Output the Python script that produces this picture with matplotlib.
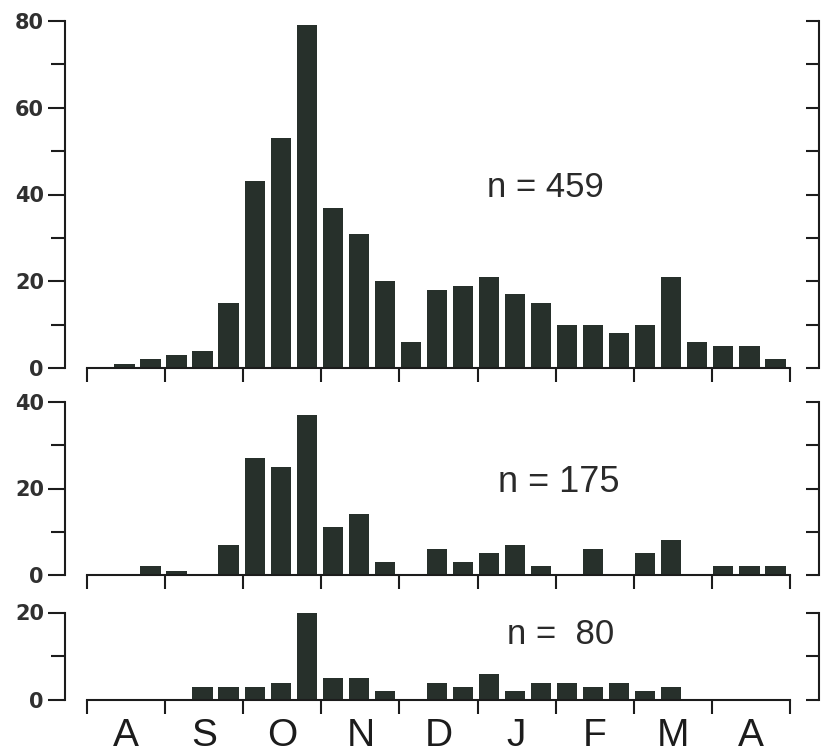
import numpy as np
import matplotlib
matplotlib.use("Agg")
import matplotlib.pyplot as plt

plt.rcParams['font.family'] = ['Liberation Sans', 'DejaVu Sans']

# 27 ten-day periods, August to April; month boundaries every 3 bins
months = ['A', 'S', 'O', 'N', 'D', 'J', 'F', 'M', 'A']

counts_459 = [0, 1, 2, 3, 4, 15, 43, 53, 79, 37, 31, 20, 6,
              18, 19, 21, 17, 15, 10, 10, 8, 10, 21, 6, 5, 5, 2]
counts_175 = [0, 0, 2, 1, 0, 7, 27, 25, 37, 11, 14, 3, 0,
              6, 3, 5, 7, 2, 0, 6, 0, 5, 8, 0, 2, 2, 2]
counts_80 = [0, 0, 0, 0, 3, 3, 3, 4, 20, 5, 5, 2, 0,
             4, 3, 6, 2, 4, 4, 3, 4, 2, 3, 0, 0, 0, 0]

panels = [
    (counts_459, 80, 'n = 459', (17.6, 41.5), 25),
    (counts_175, 40, 'n = 175', (18.1, 21.5), 26),
    (counts_80, 20, 'n =  80', (18.2, 15.0), 25),
]

bar_color = '#27302b'
line_color = '#1c1c1c'

W, H = 825, 753
fig = plt.figure(figsize=(W / 100, H / 100), dpi=100)
fig.patch.set_facecolor('white')

x0, x1 = 87, 790
# (pixel y of zero, pixel y of top value)
ypix = [(368, 21), (575, 402), (700, 612.5)]

nbins = len(counts_459)
for k, (counts, top, label, tpos, tsize) in enumerate(panels):
    y_zero, y_top = ypix[k]
    ax = fig.add_axes([x0 / W, 1 - y_zero / H, (x1 - x0) / W, (y_zero - y_top) / H])
    ax.set_facecolor('none')
    ax.bar(np.arange(nbins) + 0.05, counts, width=0.78, align='edge',
           color=bar_color, linewidth=0)
    ax.set_xlim(0, nbins)
    ax.set_ylim(0, top)

    for s in ['top', 'right']:
        ax.spines[s].set_visible(False)
    for s in ['left', 'bottom']:
        ax.spines[s].set_linewidth(1.5)
        ax.spines[s].set_color(line_color)
    ax.spines['left'].set_position(('outward', 16))

    ax.set_yticks(np.arange(0, top + 1, 20))
    ax.set_yticks(np.arange(10, top, 20), minor=True)
    ax.tick_params(axis='y', which='major', direction='out', length=12, width=1.5,
                   color=line_color, pad=3, labelsize=15, labelcolor='#303030')
    ax.tick_params(axis='y', which='minor', direction='out', length=10, width=1.5,
                   color=line_color)
    for t in ax.get_yticklabels():
        t.set_fontweight('bold')
        t.set_family('DejaVu Sans')

    ax.set_xticks(np.arange(0, nbins + 1, 3))
    ax.tick_params(axis='x', which='major', direction='out', length=10, width=1.5,
                   color=line_color, labelbottom=False)
    if k == 2:
        ax.set_xticks(np.arange(1.5, nbins, 3), months, minor=True)
        ax.tick_params(axis='x', which='minor', length=0, pad=13,
                       labelsize=28, labelcolor='#1c1c1c')
    else:
        ax.tick_params(axis='x', which='minor', length=0, labelbottom=False)

    ax.text(tpos[0], tpos[1], label, ha='center', va='center',
            fontsize=tsize, color='#2a2a2a')

    # unlabelled scale on the right
    ax2 = ax.twinx()
    ax2.set_ylim(0, top)
    for s in ['top', 'left', 'bottom']:
        ax2.spines[s].set_visible(False)
    ax2.spines['right'].set_position(('outward', 21))
    ax2.spines['right'].set_linewidth(1.5)
    ax2.spines['right'].set_color(line_color)
    ax2.set_yticks(np.arange(0, top + 1, 10))
    ax2.tick_params(axis='y', direction='in', length=9.5, width=1.5,
                    color=line_color, labelright=False)

fig.savefig('out.png', dpi=100, facecolor='white')
